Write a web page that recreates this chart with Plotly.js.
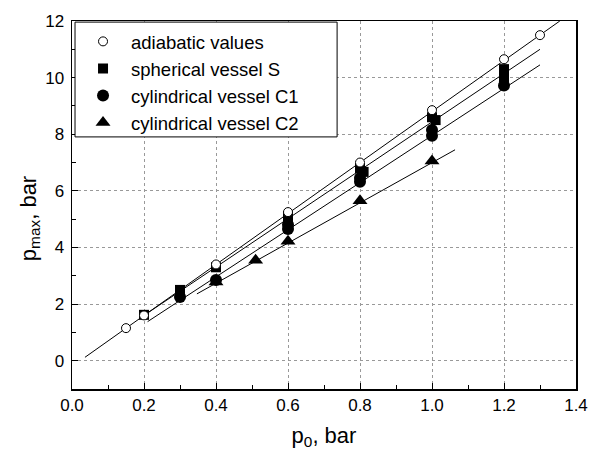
<!DOCTYPE html>
<html>
<head>
<meta charset="utf-8">
<script src="https://cdn.plot.ly/plotly-3.0.1.min.js"></script>
<style>html,body{margin:0;padding:0;background:#fff;}#chart{width:590px;height:455px;}</style>
</head>
<body>
<div id="chart"></div>
<script>
// Data
const adiabaticX = [0.15, 0.2, 0.4, 0.6, 0.8, 1.0, 1.2, 1.3];
const adiabaticY = [1.15, 1.6, 3.4, 5.25, 7.0, 8.85, 10.65, 11.5];

const sphericalX = [0.2, 0.3, 0.3, 0.4, 0.6, 0.6, 0.8, 0.81, 1.0, 1.01, 1.2, 1.2];
const sphericalY = [1.62, 2.5, 2.4, 3.3, 5.1, 4.95, 6.8, 6.67, 8.6, 8.5, 10.3, 10.0];

const cyl1X = [0.3, 0.4, 0.6, 0.6, 0.8, 0.8, 1.0, 1.0, 1.2];
const cyl1Y = [2.25, 2.85, 4.65, 4.8, 6.32, 6.45, 7.95, 8.15, 9.72];

const cyl2X = [0.4, 0.51, 0.6, 0.8, 1.0];
const cyl2Y = [2.78, 3.55, 4.22, 5.65, 7.05];

// Fitted straight lines (end points)
const fitAdiabaticX = [0.036, 1.355];
const fitAdiabaticY = [0.12, 12.0];
const fitSphericalX = [0.2, 1.3];
const fitSphericalY = [1.6, 11.0];
const fitCyl1X = [0.21, 1.3];
const fitCyl1Y = [1.38, 10.45];
const fitCyl2X = [0.347, 1.064];
const fitCyl2Y = [2.36, 7.45];

const legendNames = ["adiabatic values", "spherical vessel S", "cylindrical vessel C1", "cylindrical vessel C2"];
const xTickVals = [0.0, 0.2, 0.4, 0.6, 0.8, 1.0, 1.2, 1.4];
const xTickText = ["0.0", "0.2", "0.4", "0.6", "0.8", "1.0", "1.2", "1.4"];
const yTickVals = [0, 2, 4, 6, 8, 10, 12];
const xTitle = "p<sub>0</sub>, bar";
const yTitle = "p<sub>max</sub>, bar";

const lineStyle = {color: "#000", width: 1};
function fitTrace(x, y) {
  return {x: x, y: y, mode: "lines", line: lineStyle, showlegend: false, hoverinfo: "skip"};
}

const traces = [
  fitTrace(fitAdiabaticX, fitAdiabaticY),
  fitTrace(fitSphericalX, fitSphericalY),
  fitTrace(fitCyl1X, fitCyl1Y),
  fitTrace(fitCyl2X, fitCyl2Y),
  {x: cyl2X, y: cyl2Y, mode: "markers", name: legendNames[3], legendrank: 4,
   marker: {symbol: "triangle-up", size: 13, color: "#000"}},
  {x: cyl1X, y: cyl1Y, mode: "markers", name: legendNames[2], legendrank: 3,
   marker: {symbol: "circle", size: 12, color: "#000"}},
  {x: sphericalX, y: sphericalY, mode: "markers", name: legendNames[1], legendrank: 2,
   marker: {symbol: "square", size: 10, color: "#000"}},
  {x: adiabaticX, y: adiabaticY, mode: "markers", name: legendNames[0], legendrank: 1,
   marker: {symbol: "circle", size: 9, color: "#fff", line: {color: "#000", width: 1}}}
];

const fontFam = "Liberation Sans, Arial, sans-serif";
const layout = {
  width: 590, height: 455,
  margin: {l: 72, r: 14, t: 21, b: 66},
  paper_bgcolor: "#fff", plot_bgcolor: "#fff",
  font: {family: fontFam, color: "#000", size: 17},
  showlegend: true,
  legend: {x: 0.006, y: 0.995, xanchor: "left", yanchor: "top",
           bgcolor: "rgba(255,255,255,0)", borderwidth: 0,
           font: {family: fontFam, size: 18.5, color: "#000"},
           itemwidth: 46, tracegroupgap: 0},
  shapes: [{type: "rect", xref: "paper", yref: "paper", layer: "above",
            x0: 0.006, x1: 0.526, y0: 0.685, y1: 0.997,
            fillcolor: "#fff", line: {color: "#000", width: 1}}],
  annotations: [{text: yTitle, textangle: -90, xref: "paper", yref: "y",
                 x: 0, y: 5, xanchor: "center", yanchor: "middle", xshift: -42,
                 showarrow: false, font: {family: fontFam, size: 22, color: "#000"}}],
  xaxis: {
    range: [0, 1.4], tickvals: xTickVals, ticktext: xTickText,
    ticks: "inside", ticklen: 6, tickwidth: 1, tickcolor: "#000",
    minor: {dtick: 0.1, ticks: "inside", ticklen: 4, tickcolor: "#000", showgrid: false},
    showline: true, linecolor: "#000", linewidth: 1.5, mirror: true,
    showgrid: true, gridcolor: "#999", griddash: "dot", gridwidth: 1,
    zeroline: false,
    tickfont: {family: fontFam, size: 17},
    title: {text: xTitle, font: {family: fontFam, size: 22}, standoff: 13}
  },
  yaxis: {
    range: [-1, 12], tickvals: yTickVals,
    ticks: "inside", ticklen: 6, tickwidth: 1, tickcolor: "#000",
    minor: {dtick: 1, ticks: "inside", ticklen: 4, tickcolor: "#000", showgrid: false},
    showline: true, linecolor: "#000", linewidth: 1.5, mirror: true,
    showgrid: true, gridcolor: "#999", griddash: "dot", gridwidth: 1,
    zeroline: false,
    ticklabelstandoff: 3,
    tickfont: {family: fontFam, size: 17}
  }
};

Plotly.newPlot("chart", traces, layout, {displayModeBar: false, staticPlot: true});
</script>
</body>
</html>
